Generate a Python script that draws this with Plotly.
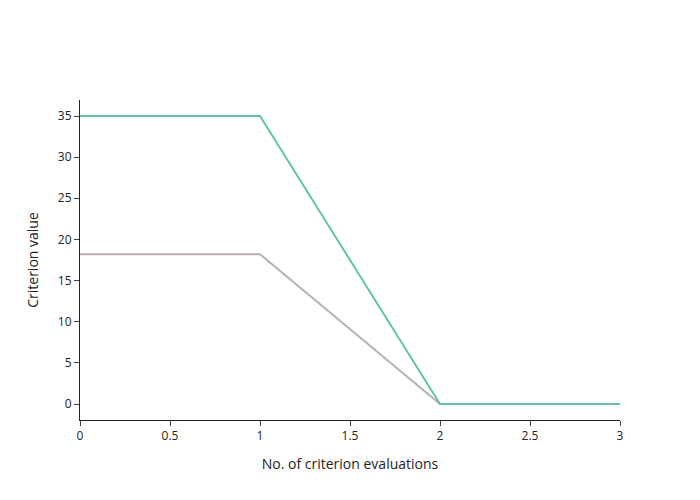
import plotly.graph_objects as go

x_vals = [0, 1, 2, 3]
series_a = [18.2, 18.2, 0, 0]
series_b = [35, 35, 0, 0]

fig = go.Figure()
fig.add_trace(go.Scatter(x=x_vals, y=series_a, mode="lines", line=dict(color="#bab0ac", width=2), showlegend=False))
fig.add_trace(go.Scatter(x=x_vals, y=series_b, mode="lines", line=dict(color="#66c2a5", width=2), showlegend=False))
fig.update_layout(
    template="simple_white",
    width=700, height=500,
    font=dict(family="Open Sans"),
    xaxis_title="No. of criterion evaluations",
    yaxis_title="Criterion value",
)
fig.write_html("out.html")
